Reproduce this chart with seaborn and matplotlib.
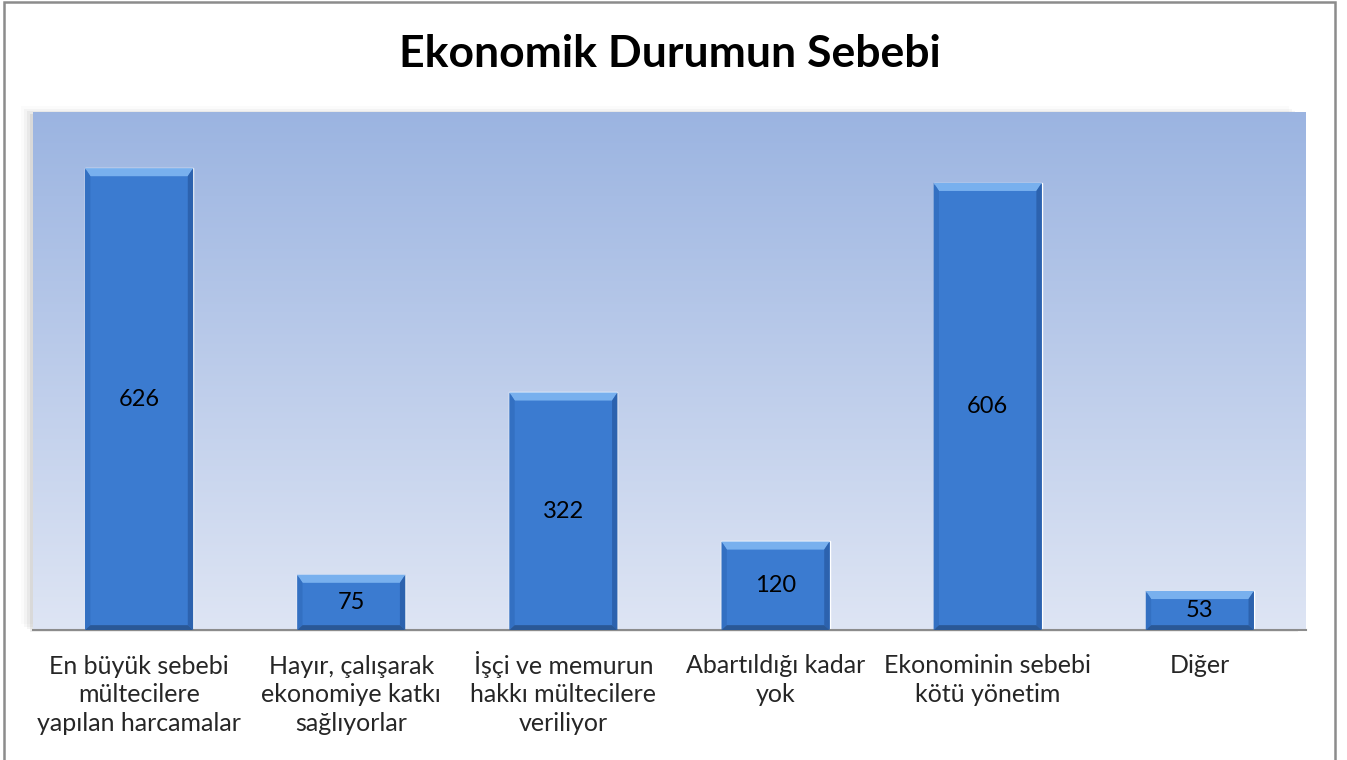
import numpy as np
import pandas as pd
import matplotlib
matplotlib.use("Agg")
from matplotlib import pyplot as plt
from matplotlib.patches import Rectangle, Polygon
import seaborn as sns

categories = ["En büyük sebebi\nmültecilere\nyapılan harcamalar",
              "Hayır, çalışarak\nekonomiye katkı\nsağlıyorlar",
              "İşçi ve memurun\nhakkı mültecilere\nveriliyor",
              "Abartıldığı kadar\nyok",
              "Ekonominin sebebi\nkötü yönetim",
              "Diğer"]
counts = [626, 75, 322, 120, 606, 53]

df = pd.DataFrame({"Sebep": categories, "Sayi": counts})

sns.set_style("white")
plt.rcParams["font.family"] = ["Lato", "DejaVu Sans"]

fig = plt.figure(figsize=(13.47, 7.6), dpi=100)
ax = fig.add_axes([0.0245, 0.171, 0.945, 0.6816])
ax.set_zorder(2)

# plot area shadow (behind the axes, offset up-left)
for i, a in enumerate([0.06, 0.045, 0.03, 0.015]):
    fig.patches.append(Rectangle((0.0245 - 0.0022 * (i + 1), 0.171 + 0.0035 * (i + 1) - 0.006),
                                 0.945 - 0.004, 0.6816,
                                 transform=fig.transFigure, facecolor="black", alpha=a,
                                 edgecolor="none", zorder=-1))

# gradient background
grad = np.linspace(0, 1, 256).reshape(-1, 1)
top = np.array([0.608, 0.706, 0.882])
bot = np.array([0.871, 0.898, 0.957])
img = top[None, None, :] * (1 - grad[..., None]) + bot[None, None, :] * grad[..., None]
ax.imshow(img, extent=[0, 1, 0, 1], transform=ax.transAxes, aspect="auto", zorder=0)

sns.barplot(data=df, x="Sebep", y="Sayi", color="#3b7bd0", width=0.51,
            saturation=1, ax=ax, zorder=2)

ax.set_xlim(-0.5, 5.5)
ax.set_ylim(0, 702)

# bevel on bars
for p in ax.patches:
    x0, w, h = p.get_x(), p.get_width(), p.get_height()
    b = 11
    bx = w * 0.05
    ax.add_patch(Polygon([[x0, h], [x0 + w, h], [x0 + w - bx, h - b], [x0 + bx, h - b]],
                         closed=True, facecolor="#78b0ee", edgecolor="none", zorder=3))
    ax.add_patch(Polygon([[x0, 0], [x0 + bx, b * 0.6], [x0 + bx, h - b], [x0, h]],
                         closed=True, facecolor="#3370c2", edgecolor="none", zorder=3))
    ax.add_patch(Polygon([[x0 + w, 0], [x0 + w - bx, b * 0.6], [x0 + w - bx, h - b], [x0 + w, h]],
                         closed=True, facecolor="#2c62ae", edgecolor="none", zorder=3))
    ax.add_patch(Polygon([[x0, 0], [x0 + w, 0], [x0 + w - bx, b * 0.6], [x0 + bx, b * 0.6]],
                         closed=True, facecolor="#2a5896", edgecolor="none", zorder=3))
    ax.text(x0 + w / 2, h / 2, f"{int(round(h))}", ha="center", va="center",
            fontsize=17, color="black", zorder=4)

ax.set_xlabel("")
ax.set_ylabel("")
ax.set_yticks([])
ax.set_xticks(range(len(categories)))
ax.set_xticklabels([])
ax.tick_params(axis="x", length=0)

# category labels: first-line baseline aligned, lines stacked downward
line_px = 29
first_px = 43
for i, lab in enumerate(categories):
    n = lab.count("\n")
    ax.annotate(lab, xy=(i, 0), xycoords=("data", "axes fraction"),
                xytext=(0, -(first_px + n * line_px) * 0.72), textcoords="offset points",
                ha="center", va="baseline", multialignment="center",
                fontsize=18, linespacing=1.3, annotation_clip=False)

for s in ["top", "right", "left"]:
    ax.spines[s].set_visible(False)
ax.spines["bottom"].set_color("#8c8c8c")
ax.spines["bottom"].set_linewidth(1.5)

fig.text(0.4975, 0.929, "Ekonomik Durumun Sebebi", ha="center", va="center",
         fontsize=32, fontweight="bold", color="black")

# chart border (runs past the bottom edge)
fig.patches.append(Rectangle((0.003, -0.01), 0.988, 1.007, transform=fig.transFigure,
                             facecolor="none", edgecolor="#8c8c8c", linewidth=1.8))

plt.savefig("out.png", dpi=100)
